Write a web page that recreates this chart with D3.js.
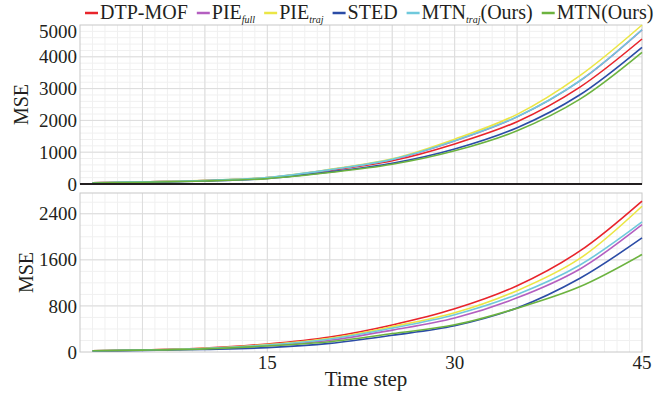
<!DOCTYPE html>
<html>
<head>
<meta charset="utf-8">
<script src="https://cdn.jsdelivr.net/npm/d3@7"></script>
<style>
  body { margin: 0; background: #fff; }
  svg text { font-family: "Liberation Serif", "Times New Roman", serif; fill: #231f20; }
</style>
</head>
<body>
<svg id="chart" width="672" height="394"></svg>
<script>
const steps = [1, 5, 10, 15, 20, 25, 30, 35, 40, 45];

const seriesNames = ['DTP-MOF', 'PIE', 'PIE', 'STED', 'MTN', 'MTN(Ours)'];
const seriesSubs = ['', 'full', 'traj', '', 'traj', ''];
const seriesTails = ['', '', '', '', '(Ours)', ''];
const seriesColors = ['#e8242b', '#b45fc0', '#ebe645', '#2b4ca6', '#6fc9dc', '#6cb33f'];

// upper panel
const topRed    = [40, 70, 110, 195, 430, 730, 1260, 1960, 3040, 4560];
const topPurple = [40, 70, 111, 200, 448, 770, 1355, 2110, 3235, 4845];
const topYellow = [40, 70, 115, 205, 460, 790, 1410, 2190, 3400, 5000];
const topBlue   = [30, 55, 95, 175, 380, 650, 1100, 1770, 2800, 4300];
const topCyan   = [40, 70, 112, 202, 450, 775, 1360, 2115, 3240, 4850];
const topGreen  = [30, 55, 95, 170, 360, 620, 1045, 1675, 2660, 4140];

// lower panel
const botRed    = [22, 36, 68, 140, 260, 470, 750, 1150, 1750, 2620];
const botPurple = [22, 34, 58, 112, 205, 380, 590, 940, 1437, 2210];
const botYellow = [22, 35, 64, 128, 240, 440, 680, 1065, 1620, 2530];
const botBlue   = [18, 28, 46, 76, 150, 290, 455, 765, 1276, 1980];
const botCyan   = [22, 35, 62, 122, 225, 415, 648, 1000, 1507, 2257];
const botGreen  = [22, 32, 55, 104, 178, 320, 472, 760, 1131, 1692];

const topTicks = [0, 1000, 2000, 3000, 4000, 5000];
const botTicks = [0, 800, 1600, 2400];
const xTicks = [15, 30, 45];

const svg = d3.select('#chart');
const left = 80, right = 642;

const x = d3.scaleLinear().domain([0, 45]).range([left, right]);

const panels = [
  { top: 25, bottom: 184, max: 5000, ticks: topTicks, minor: 200,
    data: [topRed, topPurple, topYellow, topBlue, topCyan, topGreen], labelX: 21 },
  { top: 193, bottom: 352, max: 2760, ticks: botTicks, minor: 200,
    data: [botRed, botPurple, botYellow, botBlue, botCyan, botGreen], labelX: 26 }
];

panels.forEach((p, pi) => {
  const y = d3.scaleLinear().domain([0, p.max]).range([p.bottom, p.top]);
  const g = svg.append('g');

  // minor grid
  g.append('g').selectAll('line')
    .data(d3.range(1, 45))
    .join('line')
    .attr('x1', d => x(d)).attr('x2', d => x(d))
    .attr('y1', p.top).attr('y2', p.bottom)
    .attr('stroke', '#f0f0f0').attr('stroke-width', 1);
  g.append('g').selectAll('line')
    .data(d3.range(p.minor, p.max, p.minor))
    .join('line')
    .attr('x1', left).attr('x2', right)
    .attr('y1', d => y(d)).attr('y2', d => y(d))
    .attr('stroke', '#f0f0f0').attr('stroke-width', 1);

  // major grid
  g.append('g').selectAll('line')
    .data(d3.range(5, 45, 5))
    .join('line')
    .attr('x1', d => x(d)).attr('x2', d => x(d))
    .attr('y1', p.top).attr('y2', p.bottom)
    .attr('stroke', '#dcdcdc').attr('stroke-width', 1);
  g.append('g').selectAll('line')
    .data(p.ticks.filter(t => t > 0 && t < p.max))
    .join('line')
    .attr('x1', left).attr('x2', right)
    .attr('y1', d => y(d)).attr('y2', d => y(d))
    .attr('stroke', '#dcdcdc').attr('stroke-width', 1);

  // frame
  g.append('rect')
    .attr('x', left).attr('y', p.top)
    .attr('width', right - left).attr('height', p.bottom - p.top)
    .attr('fill', 'none').attr('stroke', '#c8c8c8').attr('stroke-width', 1);

  // y tick labels
  g.append('g').selectAll('text')
    .data(p.ticks)
    .join('text')
    .attr('x', 77)
    .attr('y', d => Math.max(y(d), p.top + 6))
    .attr('dy', '0.35em')
    .attr('text-anchor', 'end')
    .attr('font-size', 19)
    .text(d => d);

  // y title
  g.append('text')
    .attr('transform', `translate(${p.labelX},${(p.top + p.bottom) / 2}) rotate(-90)`)
    .attr('text-anchor', 'middle')
    .attr('dy', '0.35em')
    .attr('font-size', 20)
    .text('MSE');

  // lines
  const line = d3.line()
    .x((d, i) => x(steps[i]))
    .y(d => y(d))
    .curve(d3.curveCatmullRom.alpha(0.5));
  g.append('g').selectAll('path')
    .data(p.data)
    .join('path')
    .attr('d', line)
    .attr('fill', 'none')
    .attr('stroke', (d, i) => seriesColors[i])
    .attr('stroke-width', 1.6);

  if (pi === 0) {
    g.append('line')
      .attr('x1', left).attr('x2', right)
      .attr('y1', p.bottom).attr('y2', p.bottom)
      .attr('stroke', '#231f20').attr('stroke-width', 2);
  }
});

// x tick labels
svg.append('g').selectAll('text')
  .data(xTicks)
  .join('text')
  .attr('x', d => x(d))
  .attr('y', 362)
  .attr('dy', '0.35em')
  .attr('text-anchor', 'middle')
  .attr('font-size', 19)
  .text(d => d);

svg.append('text')
  .attr('x', (left + right) / 2 + 5)
  .attr('y', 386)
  .attr('text-anchor', 'middle')
  .attr('font-size', 21)
  .text('Time step');

// legend
const legend = svg.append('g');
let lx = 85;
seriesNames.forEach((name, i) => {
  legend.append('line')
    .attr('x1', lx).attr('x2', lx + 13)
    .attr('y1', 13).attr('y2', 13)
    .attr('stroke', seriesColors[i]).attr('stroke-width', 2.5);
  const t = legend.append('text')
    .attr('x', lx + 15).attr('y', 19)
    .attr('font-size', 20);
  t.append('tspan').text(name);
  if (seriesSubs[i]) {
    t.append('tspan')
      .attr('font-size', 10).attr('font-style', 'italic')
      .attr('dy', 4)
      .text(seriesSubs[i]);
  }
  if (seriesTails[i]) {
    t.append('tspan').attr('dy', -4).text(seriesTails[i]);
  }
  lx += 15 + t.node().getComputedTextLength() + 9;
});
</script>
</body>
</html>
